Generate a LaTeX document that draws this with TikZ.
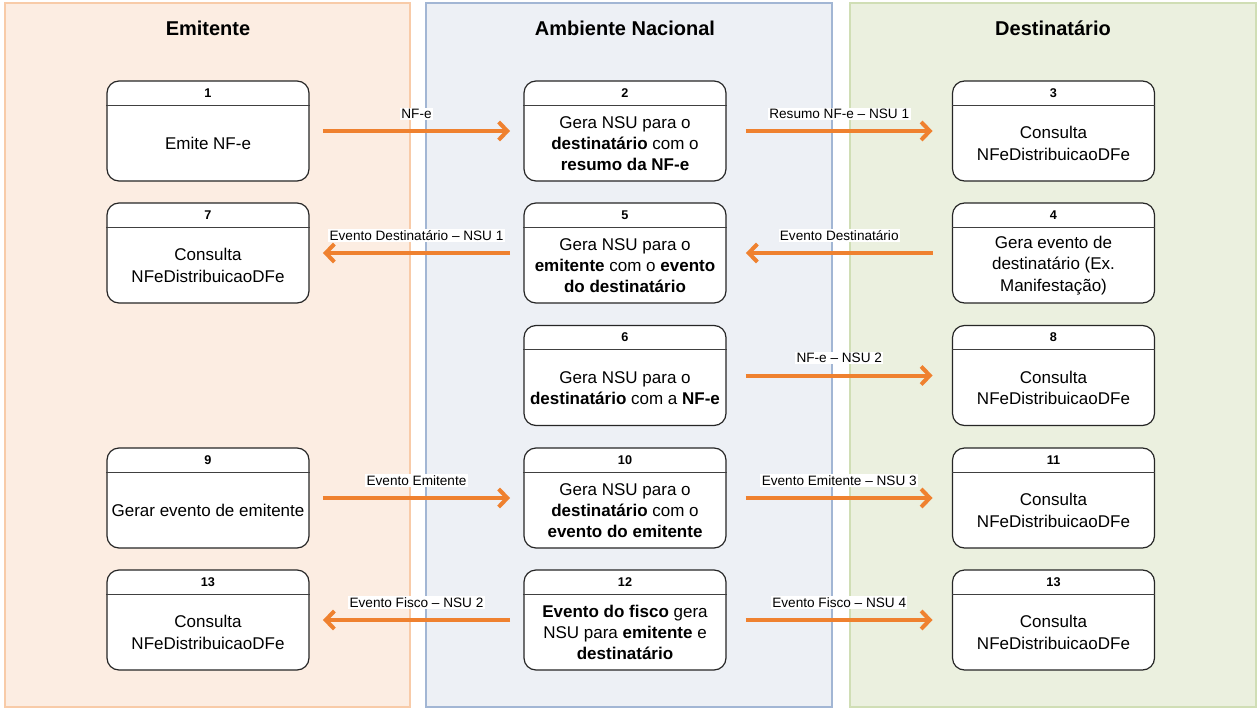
\documentclass[tikz,border=0pt]{standalone}
\usepackage{fontspec}
\setmainfont{Liberation Sans}
\usetikzlibrary{calc,arrows.meta}
\definecolor{orangeA}{HTML}{EF812F}
\definecolor{laneOfill}{HTML}{FCEDE2}
\definecolor{laneOline}{HTML}{F8CBA8}
\definecolor{laneBfill}{HTML}{EDF0F5}
\definecolor{laneBline}{HTML}{A2B6D4}
\definecolor{laneGfill}{HTML}{EBF0DF}
\definecolor{laneGline}{HTML}{D0DEB5}
\tikzset{
  lane/.style={line width=1.5pt},
  lanetitle/.style={font=\fontsize{15}{18}\selectfont\bfseries, inner sep=0pt},
  box/.style={draw=black!85, fill=white, line width=0.9pt, rounded corners=9pt,
    minimum width=151.5pt, minimum height=75pt, inner sep=0pt},
  boxline/.style={draw=black!75, line width=0.8pt},
  hdr/.style={font=\fontsize{9.5}{11}\selectfont\bfseries, inner sep=0pt},
  body/.style={font=\fontsize{12.75}{16}\selectfont, align=center, inner sep=0pt},
  flow/.style={draw=orangeA, line width=3pt, -{Straight Barb[length=6.5pt,width=13.5pt]}},
  flowL/.style={flow, shorten <=10pt, shorten >=10pt},
  flowR/.style={flow, shorten <=14.5pt, shorten >=14.5pt},
  lbl/.style={font=\fontsize{10.2}{12}\selectfont, fill=white, inner sep=1pt, yshift=13pt}
}
\newcommand{\stepnode}[5]{%
  \node[box] (#1) at (#2,#3) {};
  \draw[boxline] ($(#1.north west)+(0,25)$) -- ($(#1.north east)+(0,25)$);
  \node[hdr] (#1h) at ($(#1.north)+(0,12.5)$) {#4};
  \node[body] (#1t) at ($(#1.center)+(0,12.5)$) {#5};
}
\begin{document}
\begin{tikzpicture}[x=0.75pt,y=-0.75pt]
\useasboundingbox (0,0) rectangle (1260,710);
% lanes
\draw[lane, draw=laneOline, fill=laneOfill] (5,3) rectangle (410,707);
\draw[lane, draw=laneBline, fill=laneBfill] (426,3) rectangle (832,707);
\draw[lane, draw=laneGline, fill=laneGfill] (850,3) rectangle (1256,707);
\node[lanetitle] (tE) at (208,28) {Emitente};
\node[lanetitle] (tA) at (625,28) {Ambiente Nacional};
\node[lanetitle] (tD) at (1053,28) {Destinatário};
% boxes
\stepnode{b1}{208}{131}{1}{Emite NF-e}
\stepnode{b2}{625}{131}{2}{Gera NSU para o\\\textbf{destinatário} com o\\\textbf{resumo da NF-e}}
\stepnode{b3}{1053.5}{131}{3}{Consulta\\NFeDistribuicaoDFe}
\stepnode{b7}{208}{253}{7}{Consulta\\NFeDistribuicaoDFe}
\stepnode{b5}{625}{253}{5}{Gera NSU para o\\\textbf{emitente} com o \textbf{evento}\\\textbf{do destinatário}}
\stepnode{b4}{1053.5}{253}{4}{Gera evento de\\destinatário (Ex.\\Manifestação)}
\stepnode{b6}{625}{375.5}{6}{Gera NSU para o\\\textbf{destinatário} com a \textbf{NF-e}}
\stepnode{b8}{1053.5}{375.5}{8}{Consulta\\NFeDistribuicaoDFe}
\stepnode{b9}{208}{498}{9}{Gerar evento de emitente}
\stepnode{b10}{625}{498}{10}{Gera NSU para o\\\textbf{destinatário} com o\\\textbf{evento do emitente}}
\stepnode{b11}{1053.5}{498}{11}{Consulta\\NFeDistribuicaoDFe}
\stepnode{b13a}{208}{620}{13}{Consulta\\NFeDistribuicaoDFe}
\stepnode{b12}{625}{620}{12}{\textbf{Evento do fisco} gera\\NSU para \textbf{emitente} e\\\textbf{destinatário}}
\stepnode{b13b}{1053.5}{620}{13}{Consulta\\NFeDistribuicaoDFe}
% arrows
\draw[flowL] (b1.east) -- node[lbl] {NF-e} (b2.west);
\draw[flowR] (b2.east) -- node[lbl] {Resumo NF-e -- NSU 1} (b3.west);
\draw[flowR] (b4.west) -- node[lbl] {Evento Destinatário} (b5.east);
\draw[flowL] (b5.west) -- node[lbl] {Evento Destinatário -- NSU 1} (b7.east);
\draw[flowR] (b6.east) -- node[lbl] {NF-e -- NSU 2} (b8.west);
\draw[flowL] (b9.east) -- node[lbl] {Evento Emitente} (b10.west);
\draw[flowR] (b10.east) -- node[lbl] {Evento Emitente -- NSU 3} (b11.west);
\draw[flowL] (b12.west) -- node[lbl] {Evento Fisco -- NSU 2} (b13a.east);
\draw[flowR] (b12.east) -- node[lbl] {Evento Fisco -- NSU 4} (b13b.west);
\end{tikzpicture}
\end{document}
